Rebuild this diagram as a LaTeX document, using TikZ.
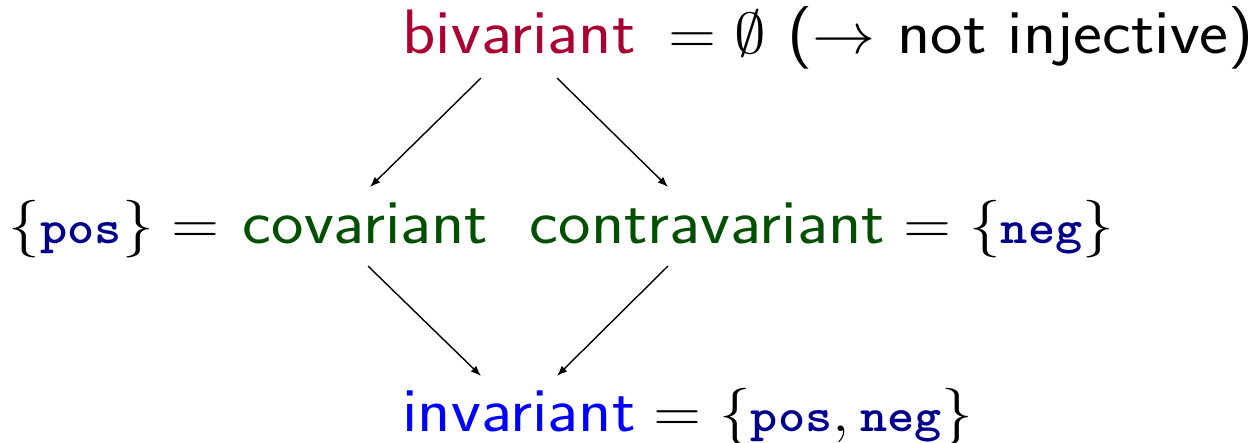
\documentclass[tikz,border=0pt]{standalone}
\usepackage{graphicx}
\usetikzlibrary{arrows.meta}
\definecolor{bivc}{RGB}{170,0,50}
\definecolor{covc}{RGB}{0,80,0}
\definecolor{invc}{RGB}{0,0,255}
\definecolor{ttc}{RGB}{0,0,140}
\newcommand{\kw}[1]{\mbox{\textcolor{ttc}{\fontsize{11.8}{14}\ttfamily\bfseries #1}}}
\newcommand{\wide}[1]{\scalebox{1.096}[1]{#1}}
\begin{document}
\begin{tikzpicture}[x=0.25pt,y=-0.25pt,
  lbl/.style={inner sep=0pt,font=\fontsize{15.7}{19}\sffamily},
  arr/.style={-{Latex[length=2.6pt,width=2pt]},line width=0.35pt}]
\useasboundingbox (0,0) rectangle (1254,442);
% row 1
\node[lbl,anchor=base,text=bivc] (biv) at (519,53) {\wide{bivariant}};
\node[lbl,anchor=base west] (bivr) at (668,53) {\wide{$=\emptyset$ ($\rightarrow$ not injective)}};
% row 2
\node[lbl,anchor=base,text=covc] (cov) at (365.5,243) {\wide{covariant}};
\node[lbl,anchor=base east] (covl) at (220,243) {\wide{$\{\kw{pos}\}=$}};
\node[lbl,anchor=base,text=covc] (con) at (707.5,243) {\wide{contravariant}};
\node[lbl,anchor=base west] (conr) at (903,243) {\wide{$=\{\kw{neg}\}$}};
% row 3
\node[lbl,anchor=base,text=invc] (inv) at (519,431) {\wide{invariant}};
\node[lbl,anchor=base west] (invr) at (653,431) {\wide{$=\{\kw{pos},\kw{neg}\}$}};
% arrows
\draw[arr] ([shift={(-38,25)}]biv.base) -- ([shift={(4.5,-56)}]cov.base);
\draw[arr] ([shift={(38,25)}]biv.base) -- ([shift={(-39.5,-56)}]con.base);
\draw[arr] ([shift={(2.5,23)}]cov.base) -- ([shift={(-38,-55)}]inv.base);
\draw[arr] ([shift={(-39.5,23)}]con.base) -- ([shift={(38,-55)}]inv.base);
\end{tikzpicture}
\end{document}
